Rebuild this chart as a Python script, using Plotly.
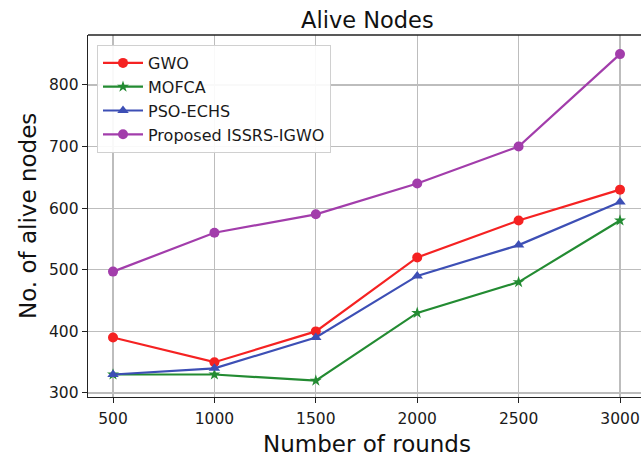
import plotly.graph_objects as go

rounds = [500, 1000, 1500, 2000, 2500, 3000]
gwo = [390, 350, 400, 520, 580, 630]
mofca = [330, 330, 320, 430, 480, 580]
pso_echs = [330, 340, 390, 490, 540, 610]
proposed = [497, 560, 590, 640, 700, 850]

x_ticks = [500, 1000, 1500, 2000, 2500, 3000]
y_ticks = [300, 400, 500, 600, 700, 800]

series = [
    ("GWO", gwo, "#f52222", "circle", 10),
    ("MOFCA", mofca, "#238b32", "star", 9),
    ("PSO-ECHS", pso_echs, "#3d4fb5", "triangle-up", 10),
    ("Proposed ISSRS-IGWO", proposed, "#a23dab", "circle", 10),
]

fig = go.Figure()
for name, vals, color, sym, size in series:
    fig.add_trace(go.Scatter(
        x=rounds, y=vals, name=name, mode="lines+markers",
        line=dict(color=color, width=2.2),
        marker=dict(symbol=sym, size=size, color=color),
    ))

W, H = 641, 457
L, R, T, B = 88, 0, 35, 60
PW, PH = W - L - R, H - T - B
fig.update_layout(
    width=W, height=H,
    margin=dict(l=L, r=R, t=T, b=B, autoexpand=False),
    paper_bgcolor="white", plot_bgcolor="white",
    font=dict(family="DejaVu Sans", color="#1a1a1a", size=16),
    showlegend=True,
    hovermode=False,
    legend=dict(
        x=(97 - 88) / PW, y=1 - (45 - 35) / PH, xanchor="left", yanchor="top",
        bgcolor="rgba(255,255,255,0.9)", bordercolor="#d0d0d0", borderwidth=1,
        font=dict(size=16, family="DejaVu Sans", color="#1a1a1a"),
        tracegroupgap=0, itemwidth=40,
    ),
    shapes=[
        # top spine (the right spine lies outside the cropped picture)
        dict(type="line", xref="paper", yref="paper", x0=0, x1=1, y0=1, y1=1,
             line=dict(color="#222222", width=1.3), layer="above"),
    ],
    annotations=[
        dict(text="Alive Nodes", xref="paper", yref="paper",
             x=(367 - 88) / PW, y=1 + (35 - 20) / PH, xanchor="center", yanchor="middle",
             showarrow=False, font=dict(size=22.5, family="DejaVu Sans", color="#111111")),
        dict(text="Number of rounds", xref="paper", yref="paper",
             x=(367 - 88) / PW, y=-(444 - 397) / PH, xanchor="center", yanchor="middle",
             showarrow=False, font=dict(size=23, family="DejaVu Sans", color="#111111")),
        dict(text="No. of alive nodes", xref="paper", yref="paper",
             x=-(88 - 28) / PW, y=0.5, xanchor="center", yanchor="middle", textangle=-90,
             showarrow=False, font=dict(size=23, family="DejaVu Sans", color="#111111")),
    ],
)
fig.update_xaxes(
    range=[376.7, 3103.5], tickvals=x_ticks, ticktext=[str(v) for v in x_ticks],
    showgrid=True, gridcolor="#bdbdbd", gridwidth=1.2,
    showline=True, linecolor="#222222", linewidth=1.3, mirror=False,
    ticks="outside", ticklen=5, tickcolor="#222222", ticklabelstandoff=2,
    tickfont=dict(size=15.5), zeroline=False, automargin=False,
)
fig.update_yaxes(
    range=[293.5, 881], tickvals=y_ticks, ticktext=[str(v) for v in y_ticks],
    showgrid=True, gridcolor="#bdbdbd", gridwidth=1.2,
    showline=True, linecolor="#222222", linewidth=1.3, mirror=False,
    ticks="outside", ticklen=5, tickcolor="#222222",
    tickfont=dict(size=15.5), zeroline=False, automargin=False,
)

fig.write_html(
    "out.html",
    config={"displayModeBar": False, "staticPlot": True},
    post_script=(
        "document.documentElement.style.margin='0';"
        "document.body.style.margin='0';"
        "document.documentElement.style.overflow='hidden';"
        "document.body.style.overflow='hidden';"
    ),
)
